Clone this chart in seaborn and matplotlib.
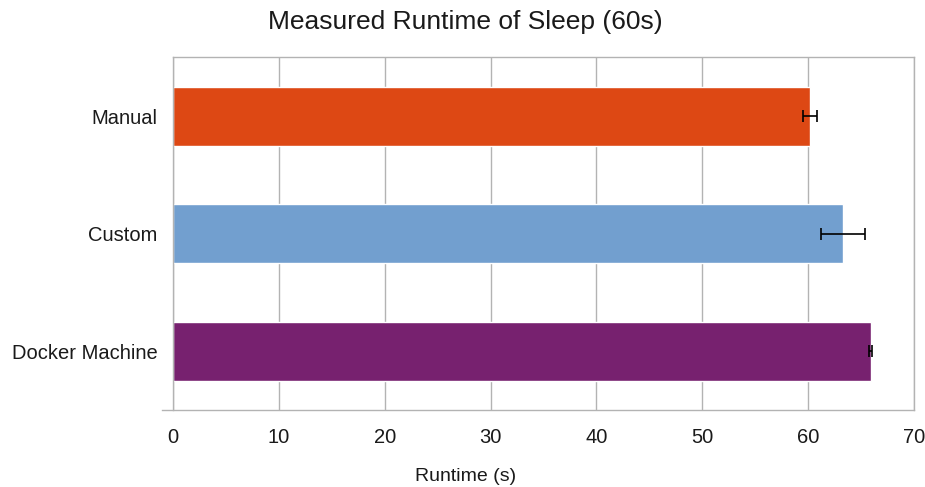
import numpy as np
import pandas as pd
import matplotlib
matplotlib.use("Agg")
import matplotlib.pyplot as plt
import seaborn as sb

# values
setups = ["Manual", "Custom", "Docker Machine"]
runtime = [60.2, 63.3, 65.9]
runtime_err = [0.65, 2.1, 0.1]
bar_colors = ["#DD4814", "#729FCF", "#77216F"]

sb.set_style("white")
plt.rcParams["font.family"] = ["Liberation Sans", "DejaVu Sans"]

df = pd.DataFrame({"setup": setups, "runtime": runtime})

fig = plt.figure(figsize=(9.25, 4.87), dpi=100)
ax = fig.add_axes([0.187, 0.158, 0.801, 0.724])

sb.barplot(data=df, x="runtime", y="setup", hue="setup", palette=bar_colors,
           orient="h", width=0.5, legend=False, saturation=1, ax=ax)
ax.errorbar(runtime, range(len(setups)), xerr=runtime_err, fmt="none",
            ecolor="black", elinewidth=1.2, capsize=4.5, capthick=1.2, zorder=5)

grid_col = "#b3b3b3"
ax.set_xlim(0, 70)
ax.set_ylim(2.5, -0.5)
ax.set_xticks(np.arange(0, 71, 10))
ax.set_yticks(np.arange(-0.5, 3, 1), minor=False)
ax.set_yticklabels([])
ax.set_yticks(range(len(setups)), minor=True)
ax.set_yticklabels(setups, minor=True)
ax.tick_params(axis="y", which="major", length=7.5, color=grid_col, width=1)
ax.tick_params(axis="y", which="minor", length=0, pad=11, labelsize=14.5, labelcolor="#1a1a1a")
ax.tick_params(axis="x", length=4, color=grid_col, width=1, pad=9, labelsize=14.5,
               labelcolor="#1a1a1a")
ax.grid(axis="x", color=grid_col, linewidth=1)
ax.set_axisbelow(True)
for s in ax.spines.values():
    s.set_color(grid_col)
    s.set_linewidth(1)
ax.spines["bottom"].set_bounds(-1.0, 70)

ax.set_xlabel("")
ax.set_ylabel("")
fig.text(0.503, 0.022, "Runtime (s)", ha="center", va="center", fontsize=14, color="#1a1a1a")
fig.text(0.503, 0.955, "Measured Runtime of Sleep (60s)", ha="center", va="center",
         fontsize=19, color="#1a1a1a")

fig.savefig("out.png", dpi=100)
